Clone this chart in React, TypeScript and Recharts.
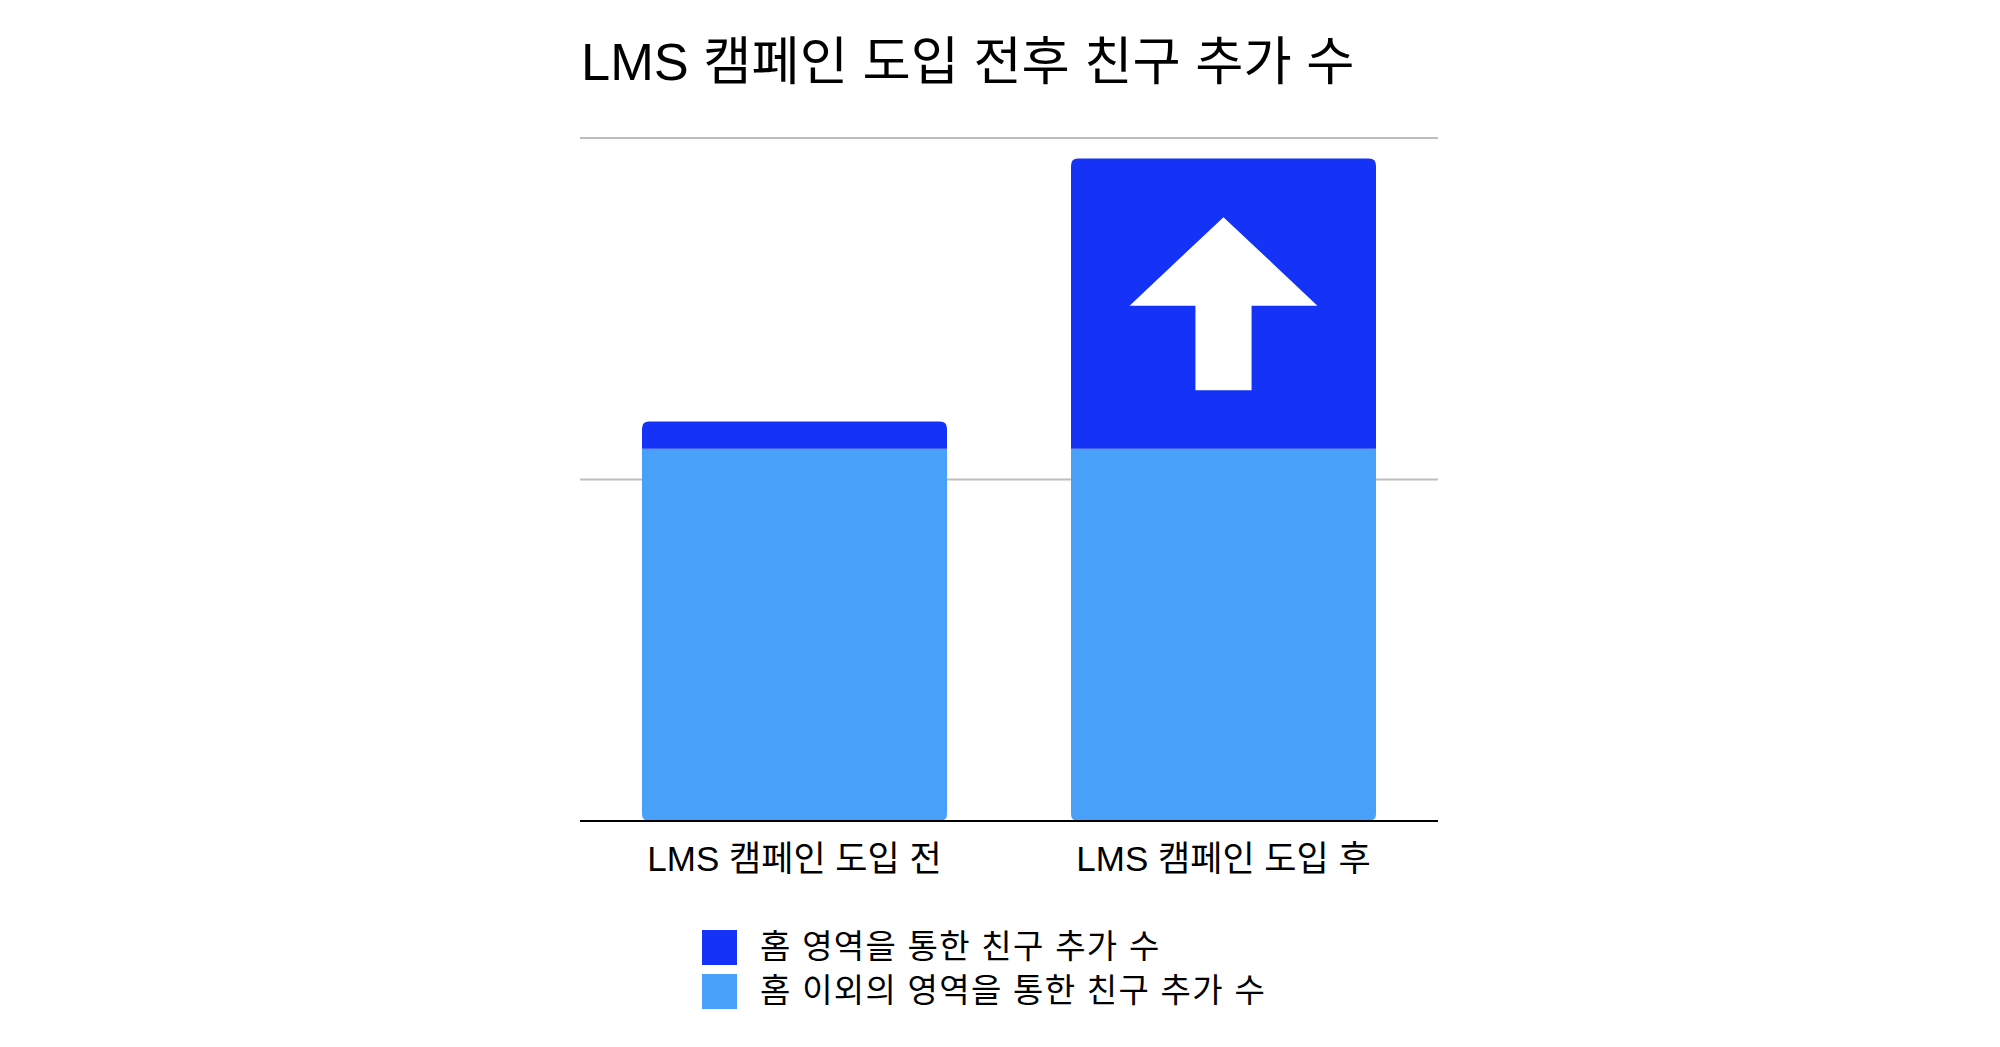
import React from 'react';
import { BarChart, Bar, XAxis, YAxis, CartesianGrid } from 'recharts';

const titleText = 'LMS 캠페인 도입 전후 친구 추가 수';
const categories = ['LMS 캠페인 도입 전', 'LMS 캠페인 도입 후'];
const otherAreaAdds = [109, 109];
const homeAreaAdds = [8, 85];
const arrowFlags = [false, true];
const yTicks = [0, 100, 200];
const seriesNames = ['홈 영역을 통한 친구 추가 수', '홈 이외의 영역을 통한 친구 추가 수'];
const seriesColors = ['#1532F7', '#48A0F8'];

const data = categories.map((c, i) => ({
  name: c,
  other: otherAreaAdds[i],
  home: homeAreaAdds[i],
  arrow: arrowFlags[i],
}));

const FONT = "'Liberation Sans', 'Noto Sans CJK KR', sans-serif";
const R = 7;

const LightShape = (props: any) => {
  const { x, y, width, height, fill } = props;
  const r = Math.min(R, height / 2);
  const d = `M${x},${y} L${x + width},${y} L${x + width},${y + height - r} Q${x + width},${y + height} ${x + width - r},${y + height} L${x + r},${y + height} Q${x},${y + height} ${x},${y + height - r} Z`;
  return <path d={d} fill={fill} />;
};

const DarkShape = (props: any) => {
  const { x, y, width, height, fill, payload } = props;
  const r = Math.min(R, height / 2);
  const d = `M${x},${y + height} L${x},${y + r} Q${x},${y} ${x + r},${y} L${x + width - r},${y} Q${x + width},${y} ${x + width},${y + r} L${x + width},${y + height} Z`;
  let arrow = null;
  if (payload && payload.arrow) {
    const cx = x + width / 2;
    const apex = y + height * 0.202;
    const headBase = y + height * 0.507;
    const shaftBottom = y + height * 0.798;
    const hw = width * 0.308;
    const sw = width * 0.092;
    const a = `M${cx},${apex} L${cx + hw},${headBase} L${cx + sw},${headBase} L${cx + sw},${shaftBottom} L${cx - sw},${shaftBottom} L${cx - sw},${headBase} L${cx - hw},${headBase} Z`;
    arrow = <path d={a} fill="#ffffff" />;
  }
  return (
    <g>
      <path d={d} fill={fill} />
      {arrow}
    </g>
  );
};

export default function App() {
  const W = 1984;
  const H = 1031;
  return (
    <div style={{ position: 'relative', width: W, height: H, fontFamily: FONT }}>
      <BarChart
        width={W}
        height={H}
        data={data}
        margin={{ top: 130, right: 554, left: 572, bottom: 158 }}
        barSize={305}
      >
        <CartesianGrid vertical={false} stroke="#bdbdbd" strokeWidth={2} />
        <YAxis hide domain={[0, 200]} ticks={yTicks} />
        <XAxis
          dataKey="name"
          height={60}
          tickLine={false}
          tickSize={0}
          tickMargin={25}
          axisLine={{ stroke: '#000000', strokeWidth: 2 }}
          tick={{ fill: '#000000', fontSize: 35, fontFamily: FONT }}
        />
        <Bar dataKey="other" stackId="a" fill={seriesColors[1]} shape={<LightShape />} isAnimationActive={false} />
        <Bar dataKey="home" stackId="a" fill={seriesColors[0]} shape={<DarkShape />} isAnimationActive={false} />
      </BarChart>
      <svg width={W} height={H} style={{ position: 'absolute', left: 0, top: 0, pointerEvents: 'none' }}>
        <text x={573} y={72} fontSize={52.4} fontFamily={FONT} fill="#000000">
          {titleText}
        </text>
        {seriesNames.map((n, i) => (
          <g key={n}>
            <rect x={694} y={922 + i * 44} width={35} height={35} fill={seriesColors[i]} />
            <text x={752} y={950 + i * 44} fontSize={33} letterSpacing={1.3} fontFamily={FONT} fill="#000000">
              {n}
            </text>
          </g>
        ))}
      </svg>
    </div>
  );
}
